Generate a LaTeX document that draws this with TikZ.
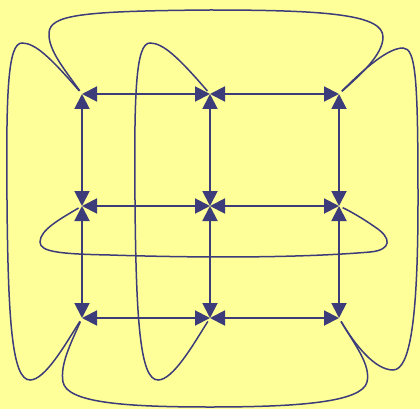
\documentclass[tikz,border=0pt]{standalone}
\usetikzlibrary{arrows.meta}
\definecolor{bg}{HTML}{FFFF99}
\definecolor{ln}{HTML}{3C3C7A}
\begin{document}
\begin{tikzpicture}[x=1pt,y=-1pt,
  grid/.style={line width=1.9pt,draw=ln,{Triangle[length=15pt,width=15pt]}-{Triangle[length=15pt,width=15pt]}},
  wrap/.style={line width=1.5pt,draw=ln,shorten <=4pt,shorten >=4pt}]
\fill[bg] (0,0) rectangle (420,409);
\useasboundingbox (0,0) rectangle (420,409);
\coordinate (a1) at (82,94);  \coordinate (a2) at (210,94);  \coordinate (a3) at (339,94);
\coordinate (b1) at (82,206); \coordinate (b2) at (210,206); \coordinate (b3) at (339,206);
\coordinate (c1) at (82,318); \coordinate (c2) at (210,318); \coordinate (c3) at (339,318);
% grid arrows
\draw[grid] (a1) -- (a2); \draw[grid] (a2) -- (a3);
\draw[grid] (b1) -- (b2); \draw[grid] (b2) -- (b3);
\draw[grid] (c1) -- (c2); \draw[grid] (c2) -- (c3);
\draw[grid] (a1) -- (b1); \draw[grid] (b1) -- (c1);
\draw[grid] (a2) -- (b2); \draw[grid] (b2) -- (c2);
\draw[grid] (a3) -- (b3); \draw[grid] (b3) -- (c3);
% top wrap a1-a3
\draw[wrap] (a1) .. controls (65,70) and (48,50) .. (49,33)
  .. controls (50,15) and (80,11) .. (210,10)
  .. controls (330,10) and (383,15) .. (383,37)
  .. controls (383,55) and (360,75) .. (a3);
% left loop a1-c1
\draw[wrap] (a1) .. controls (50,57) and (35,43) .. (22,43)
  .. controls (8,43) and (6,90) .. (7,200)
  .. controls (8,320) and (12,380) .. (30,380)
  .. controls (45,380) and (65,345) .. (c1);
% middle loop a2-c2
\draw[wrap] (a2) .. controls (178,57) and (163,43) .. (150,43)
  .. controls (136,43) and (134,90) .. (135,200)
  .. controls (136,320) and (140,380) .. (158,380)
  .. controls (173,380) and (193,345) .. (c2);
% right loop a3-c3
\draw[wrap] (a3) .. controls (365,68) and (388,48) .. (403,48)
  .. controls (416,48) and (418,80) .. (418,200)
  .. controls (418,320) and (410,370) .. (393,370)
  .. controls (375,370) and (355,345) .. (c3);
% middle wrap b1-b3
\draw[wrap] (b1) .. controls (60,219) and (40,230) .. (40,242)
  .. controls (40,252) and (60,254) .. (110,255)
  .. controls (200,258) and (300,258) .. (370,252)
  .. controls (392,250) and (392,238) .. (375,227)
  .. controls (365,220) and (352,212) .. (b3);
% bottom wrap c1-c3
\draw[wrap] (c1) .. controls (70,345) and (60,365) .. (63,382)
  .. controls (67,402) and (120,407) .. (210,407)
  .. controls (300,407) and (362,402) .. (367,382)
  .. controls (371,365) and (355,345) .. (c3);
\end{tikzpicture}
\end{document}
